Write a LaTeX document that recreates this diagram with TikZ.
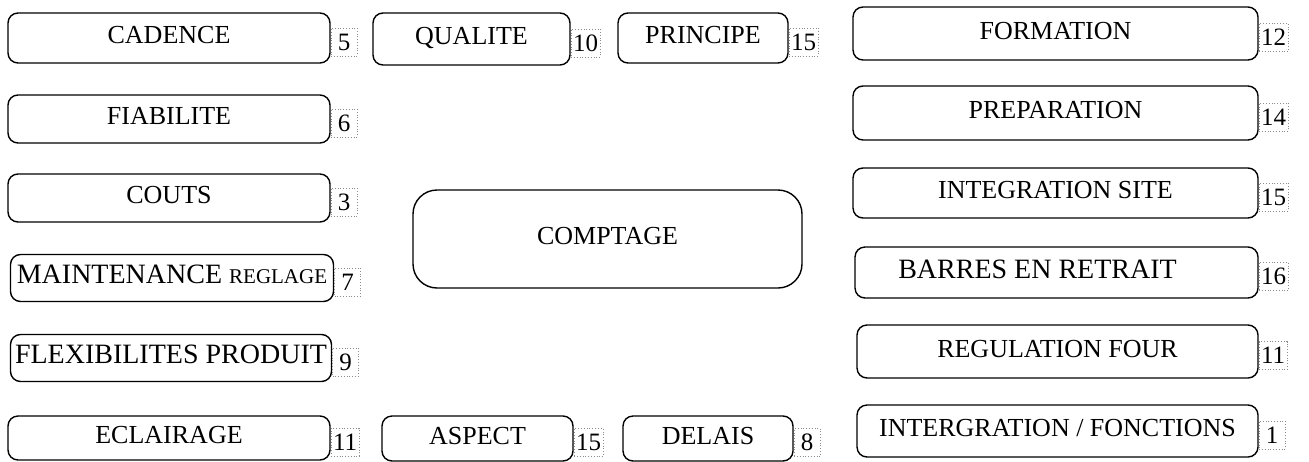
\documentclass[tikz,border=0pt]{standalone}
\usepackage{fontspec}
\setmainfont{Liberation Serif}
\usetikzlibrary{positioning}

\begin{document}
\begin{tikzpicture}[x=0.5pt, y=-0.5pt,
  crit/.style 2 args={draw, rounded corners=5pt, line width=0.7pt,
    minimum width=#1, minimum height=#2, inner sep=0pt,
    text height=0.66em, text depth=0.08em,
    font=\fontsize{13}{15}\selectfont},
  score/.style={draw=black!45, densely dotted, line width=0.4pt,
    minimum width=13pt, minimum height=14pt, inner sep=1pt,
    yshift=-2pt, font=\fontsize{12.5}{14}\selectfont},
  big/.style={font=\fontsize{14}{16}\selectfont},
]
  \useasboundingbox (0,0) rectangle (1309,461);

  % Left column
  \node[crit={161pt}{25pt}] (cadence) at (169,38) {CADENCE};
  \node[crit={161pt}{24pt}] (fiabilite) at (169,119) {FIABILITE};
  \node[crit={161pt}{24pt}] (couts) at (169,198) {COUTS};
  \node[crit={161.5pt}{23.5pt}, big] (maintenance) at (172,278)
    {MAINTENANCE {\fontsize{10.5}{12}\selectfont REGLAGE}};
  \node[crit={160.5pt}{23.5pt}, big] (flexibilites) at (171,358) {FLEXIBILITES PRODUIT};
  \node[crit={161pt}{22pt}] (eclairage) at (169,438) {ECLAIRAGE};

  % Top and bottom middle
  \node[crit={98.5pt}{26pt}] (qualite) at (471.5,39) {QUALITE};
  \node[crit={85pt}{25pt}] (principe) at (703,38) {PRINCIPE};
  \node[crit={95.5pt}{22.5pt}] (aspect) at (477.5,438.5) {ASPECT};
  \node[crit={85pt}{22.5pt}] (delais) at (708,438.5) {DELAIS};

  % Centre
  \node[crit={194.5pt}{49pt}, rounded corners=12pt] (comptage) at (607.5,239) {COMPTAGE};

  % Right column
  \node[crit={202.5pt}{26.5pt}] (formation) at (1055.5,33.5) {FORMATION};
  \node[crit={202.5pt}{27pt}] (preparation) at (1055.5,113) {PREPARATION};
  \node[crit={202.5pt}{25pt}] (integration) at (1055.5,193) {INTEGRATION SITE};
  \node[crit={201.5pt}{25.5pt}, big] (barres) at (1056.5,272.5) {BARRES EN RETRAIT\rule{19pt}{0pt}};
  \node[crit={200.5pt}{26.5pt}] (regulation) at (1057.5,351.5) {REGULATION FOUR};
  \node[crit={200.5pt}{26pt}] (fonctions) at (1057.5,431) {INTERGRATION / FONCTIONS};

  % Scores
  \node[score, right=0pt of cadence] (ncadence) {5};
  \node[score, right=0pt of fiabilite] (nfiabilite) {6};
  \node[score, right=0pt of couts] (ncouts) {3};
  \node[score, right=0pt of maintenance] (nmaintenance) {7};
  \node[score, right=0pt of flexibilites] (nflexibilites) {9};
  \node[score, right=0pt of eclairage] (neclairage) {11};
  \node[score, right=0pt of qualite] (nqualite) {10};
  \node[score, right=0pt of principe] (nprincipe) {15};
  \node[score, right=0pt of aspect] (naspect) {15};
  \node[score, right=0pt of delais] (ndelais) {8};
  \node[score, right=0pt of formation] (nformation) {12};
  \node[score, right=0pt of preparation] (npreparation) {14};
  \node[score, right=0pt of integration] (nintegration) {15};
  \node[score, right=0pt of barres] (nbarres) {16};
  \node[score, right=0pt of regulation] (nregulation) {11};
  \node[score, right=0pt of fonctions] (nfonctions) {1};
\end{tikzpicture}
\end{document}
